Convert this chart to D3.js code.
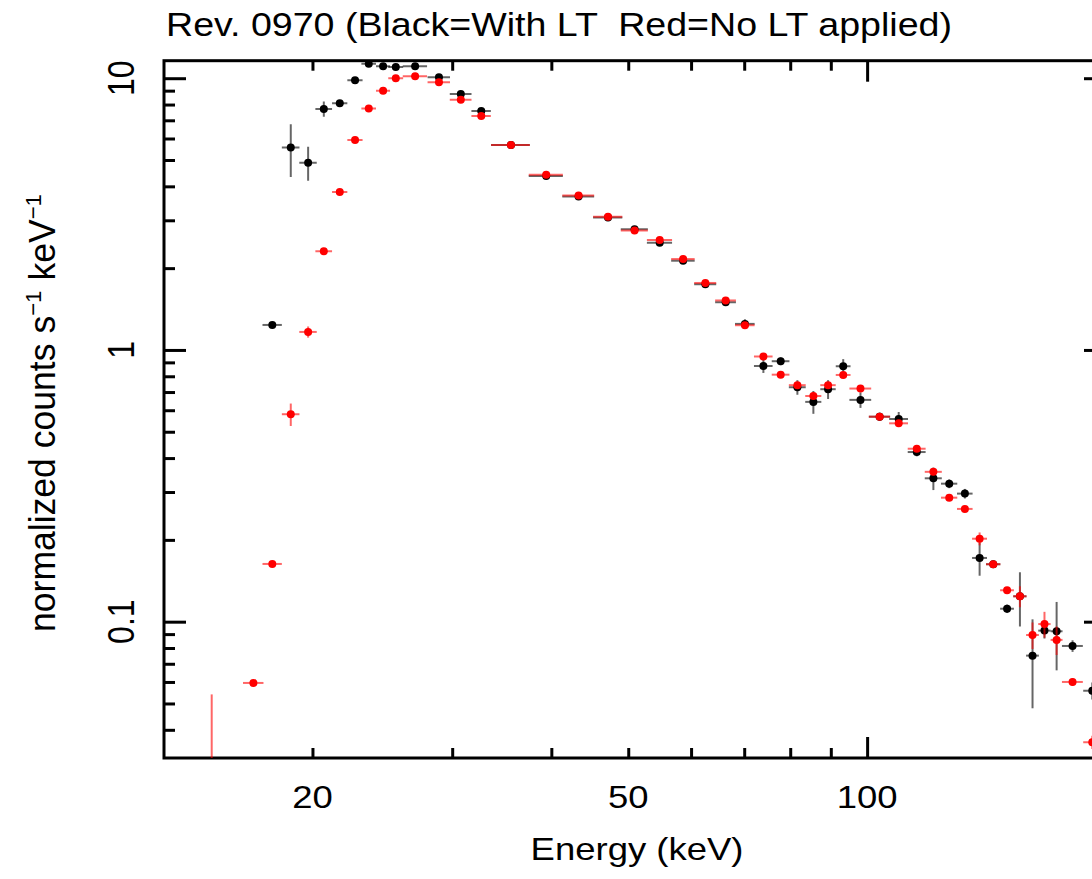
<!DOCTYPE html>
<html lang="en">
<head>
<meta charset="utf-8">
<title>Rev. 0970 spectrum</title>
<script src="https://d3js.org/d3.v7.min.js"></script>
<style>
  body { margin: 0; background: #fff; }
  svg { font-family: "Liberation Sans", Helvetica, Arial, sans-serif; }
  .ticks line { stroke: #000; stroke-width: 3; }
</style>
</head>
<body>
<script>
// energy bins (keV) and their half widths
const energy = [14.93, 16.85, 17.80, 18.78, 19.75, 20.67, 21.65, 22.63, 23.55, 24.55, 25.47, 26.94, 28.87, 30.76, 32.64,
  35.58, 39.41, 43.29, 47.15, 50.93, 54.78, 58.63, 62.54, 66.34, 70.15, 74.01, 77.82, 81.68, 85.56, 89.29, 93.3,
  98.09, 103.7, 109.6, 115.5, 121.2, 126.9, 132.8, 138.6, 144.2, 150.1, 155.8, 161.6, 167.3, 173.3, 181.5, 192.2];
const halfWidth = [0, 0.5, 0.5, 0.48, 0.5, 0.5, 0.48, 0.5, 0.5, 0.5, 0.55, 0.95, 0.94, 0.97, 0.92,
  2, 1.95, 2, 2, 2, 2, 2, 2, 2, 2, 2, 2, 2, 2, 2, 2,
  3.1, 3.2, 3, 3, 3, 3, 3, 3, 3, 3, 3, 3, 3, 3, 5.5, 5];

// black = with LT
const withLT = [null, null, 1.236, 5.554, 4.89, 7.71, 8.09, 9.83, 11.3, 11.07, 11.0, 11.07, 10.09, 8.75, 7.58,
  5.68, 4.37, 3.67, 3.07, 2.78, 2.48, 2.13, 1.745, 1.498, 1.247, 0.873, 0.909, 0.729, 0.644, 0.717, 0.871,
  0.655, 0.568, 0.557, 0.421, 0.337, 0.322, 0.296, 0.1716, 0.1627, 0.1116, 0.124, 0.075, 0.0927, 0.0922, 0.0814, 0.0557];
const withLTErr = [null, null, 0.02, 1.22, 0.7, 0.5, 0.15, 0.2, 0.15, 0.12, 0.12, 0.1, 0.1, 0.08, 0.07,
  0.05, 0.05, 0.04, 0.04, 0.05, 0.05, 0.05, 0.03, 0.04, 0.05, 0.05, 0.03, 0.045, 0.062, 0.057, 0.054,
  0.043, 0.02, 0.034, 0.015, 0.032, 0.012, 0.012, 0.024, 0.005, 0.004, 0.028, 0.027, 0.006, 0.026, 0.004, 0.004];

// red = no LT applied
const noLT = [0.025, 0.0595, 0.1631, 0.580, 1.165, 2.308, 3.815, 5.93, 7.73, 9.00, 10.0, 10.17, 9.67, 8.34, 7.26,
  5.68, 4.41, 3.70, 3.09, 2.75, 2.54, 2.16, 1.764, 1.521, 1.233, 0.946, 0.811, 0.742, 0.677, 0.742, 0.809,
  0.721, 0.568, 0.537, 0.433, 0.356, 0.286, 0.260, 0.202, 0.1627, 0.1305, 0.124, 0.0893, 0.098, 0.0857, 0.060, 0.036];
const noLTErr = [0.029, 0.001, 0.002, 0.055, 0.055, 0.03, 0.03, 0.05, 0.05, 0.05, 0.05, 0.05, 0.05, 0.05, 0.05,
  0.04, 0.03, 0.03, 0.03, 0.03, 0.02, 0.02, 0.02, 0.02, 0.02, 0.02, 0.01, 0.01, 0.01, 0.015, 0.015,
  0.01, 0.005, 0.008, 0.006, 0.01, 0.004, 0.004, 0.011, 0.003, 0.003, 0.011, 0.01, 0.0107, 0.0103, 0.002, 0.002];

const xMajorTicks = [100];
const xMinorTicks = [20, 30, 40, 50, 60, 70, 80, 90, 200];
const xTickLabels = [20, 50, 100];
const yMajorTicks = [0.1, 1, 10];
const yMinorTicks = [0.04, 0.05, 0.06, 0.07, 0.08, 0.09, 0.2, 0.3, 0.4, 0.5, 0.6, 0.7, 0.8, 0.9, 2, 3, 4, 5, 6, 7, 8, 9];
const yTickLabels = ["0.1", "1", "10"];

const W = 1092, H = 879;
const box = {left: 164, right: 1106, top: 60.7, bottom: 758};
const stretch = 1.14;

const svg = d3.select("body").append("svg")
  .attr("width", W).attr("height", H);

const x = d3.scaleLog().domain([13, 200]).range([box.left, box.right]);
const y = d3.scaleLog().domain([0.0315, 11.6]).range([box.bottom, box.top]);

svg.append("clipPath").attr("id", "clip")
  .append("rect")
  .attr("x", box.left).attr("y", box.top)
  .attr("width", box.right - box.left).attr("height", box.bottom - box.top);

// tick marks on all four sides, pointing inward
function ticks(axis, tx, ty) {
  const g = svg.append("g").attr("class", "ticks")
    .attr("transform", `translate(${tx},${ty})`)
    .call(axis.tickFormat("").tickSizeOuter(0));
  g.select(".domain").remove();
}
ticks(d3.axisBottom(x).tickValues(xMinorTicks).tickSize(-10), 0, box.bottom);
ticks(d3.axisBottom(x).tickValues(xMajorTicks).tickSize(-21), 0, box.bottom);
ticks(d3.axisTop(x).tickValues(xMinorTicks).tickSize(-10), 0, box.top);
ticks(d3.axisTop(x).tickValues(xMajorTicks).tickSize(-21), 0, box.top);
ticks(d3.axisLeft(y).tickValues(yMinorTicks).tickSize(-11), box.left, 0);
ticks(d3.axisLeft(y).tickValues(yMajorTicks).tickSize(-22), box.left, 0);
ticks(d3.axisRight(y).tickValues(yMinorTicks).tickSize(-11), box.right, 0);
ticks(d3.axisRight(y).tickValues(yMajorTicks).tickSize(-22), box.right, 0);

svg.append("rect")
  .attr("x", box.left).attr("y", box.top)
  .attr("width", box.right - box.left).attr("height", box.bottom - box.top)
  .attr("fill", "none").attr("stroke", "#000").attr("stroke-width", 3);

// data
const plotArea = svg.append("g").attr("clip-path", "url(#clip)");
const yMin = y.domain()[0] * 0.5;

function drawSeries(vals, errs, color) {
  const pts = energy.map((e, i) => ({e, h: halfWidth[i], v: vals[i], err: errs[i]}))
    .filter(d => d.v != null);
  const g = plotArea.append("g");
  g.selectAll("line.xe").data(pts.filter(d => d.h > 0)).join("line")
    .attr("x1", d => x(d.e - d.h)).attr("x2", d => x(d.e + d.h))
    .attr("y1", d => y(d.v)).attr("y2", d => y(d.v))
    .attr("stroke", color).attr("stroke-opacity", 0.6).attr("stroke-width", 2);
  g.selectAll("line.ye").data(pts).join("line")
    .attr("x1", d => x(d.e)).attr("x2", d => x(d.e))
    .attr("y1", d => y(Math.max(d.v - d.err, yMin))).attr("y2", d => y(d.v + d.err))
    .attr("stroke", color).attr("stroke-opacity", 0.6).attr("stroke-width", 2);
  g.selectAll("circle").data(pts.filter(d => d.v > y.domain()[0])).join("circle")
    .attr("cx", d => x(d.e)).attr("cy", d => y(d.v)).attr("r", 4)
    .attr("fill", color);
}
drawSeries(withLT, withLTErr, "#000");
drawSeries(noLT, noLTErr, "#ff0000");

// labels
svg.selectAll("text.xl").data(xTickLabels).join("text")
  .attr("transform", d => `translate(${x(d)},808) scale(${stretch},1)`)
  .attr("text-anchor", "middle").attr("font-size", 32)
  .text(d => d);

svg.selectAll("text.yl").data(yTickLabels).join("text")
  .attr("transform", d => `translate(134,${y(+d)}) rotate(-90) scale(1,${stretch})`)
  .attr("text-anchor", "middle").attr("font-size", 32)
  .text(d => d);

svg.append("text")
  .attr("transform", `translate(637,860) scale(${stretch},1)`)
  .attr("text-anchor", "middle").attr("font-size", 32)
  .text("Energy (keV)");

const yt = svg.append("text")
  .attr("transform", `translate(55,413) rotate(-90) scale(1,${stretch})`)
  .attr("text-anchor", "middle").attr("font-size", 32)
  .attr("textLength", 438).attr("lengthAdjust", "spacingAndGlyphs");
yt.append("tspan").text("normalized counts s");
yt.append("tspan").attr("font-size", 20).attr("dy", -12).text("\u22121");
yt.append("tspan").attr("dy", 12).text(" keV");
yt.append("tspan").attr("font-size", 20).attr("dy", -12).text("\u22121");

svg.append("text")
  .attr("x", 166).attr("y", 36)
  .attr("font-size", 33).style("white-space", "pre")
  .attr("textLength", 786).attr("lengthAdjust", "spacingAndGlyphs")
  .text("Rev. 0970 (Black=With LT  Red=No LT applied)");
</script>
</body>
</html>
